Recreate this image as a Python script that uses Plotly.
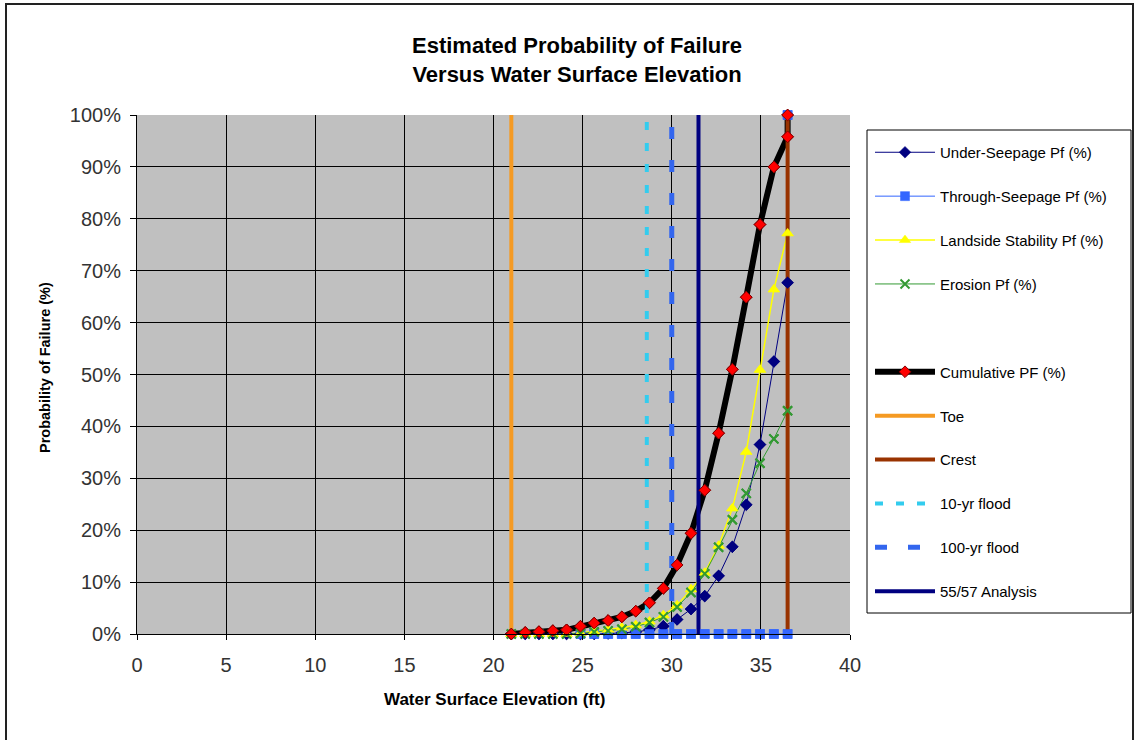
import plotly.graph_objects as go

# ---------------- data ----------------
elevation = [21.0, 21.78, 22.55, 23.33, 24.1, 24.88, 25.65, 26.43, 27.2, 27.98,
             28.75, 29.53, 30.3, 31.08, 31.85, 32.63, 33.4, 34.18, 34.95, 35.73, 36.5]
under_seepage = [0, 0, 0, 0, 0, 0, 0, 0.1, 0.2, 0.4,
                 0.8, 1.5, 2.8, 4.8, 7.3, 11.2, 16.8, 24.9, 36.5, 52.5, 67.7]
through_elev = [24.88, 25.65, 26.43, 27.2, 27.98, 28.75, 29.53, 30.3, 31.08, 31.85,
                32.63, 33.4, 34.18, 34.95, 35.73, 36.5, 36.5]
through_seepage = [0, 0, 0, 0, 0, 0, 0, 0, 0, 0, 0, 0, 0, 0, 0, 0, 100]
landside = [0, 0, 0, 0, 0, 0.2, 0.5, 0.8, 1.2, 1.7,
            2.4, 3.6, 5.5, 8.6, 11.8, 17.0, 24.2, 35.1, 50.9, 66.4, 77.2]
erosion = [0, 0, 0, 0, 0, 0.1, 0.4, 0.6, 0.9, 1.4,
           2.2, 3.3, 5.2, 8.0, 11.6, 16.7, 22.0, 27.1, 32.9, 37.6, 43.0]
cumulative_elev = [21.0, 21.78, 22.55, 23.33, 24.1, 24.88, 25.65, 26.43, 27.2, 27.98,
                   28.75, 29.53, 30.3, 31.08, 31.85, 32.63, 33.4, 34.18, 34.95, 35.73, 36.5, 36.5]
cumulative = [0, 0.3, 0.45, 0.65, 0.8, 1.5, 2.1, 2.6, 3.3, 4.4,
              6.0, 8.8, 13.3, 19.4, 27.7, 38.7, 51.0, 64.9, 78.9, 90.0, 95.8, 100]

toe_elev = 21.0
crest_elev = 36.5
flood10_elev = 28.6
flood100_elev = 30.0
analysis_elev = 31.5
line_span = [0, 100]

x_ticks = [0, 5, 10, 15, 20, 25, 30, 35, 40]
y_ticks = [0, 10, 20, 30, 40, 50, 60, 70, 80, 90, 100]

FONT = "Liberation Sans, Arial, sans-serif"

# plot-area pixel geometry helpers (for paper placement of text)
L, R, T, B, W, H = 137, 850, 115, 634, 1136, 740
def px(p):
    return (p - L) / (R - L)
def py(p):
    return (B - p) / (B - T)

fig = go.Figure()

series = [
    dict(name="Under-Seepage Pf (%)", x=elevation, y=under_seepage, color="#000080",
         width=1, symbol="diamond", msize=9, mcolor="#000080", mline="#000080"),
    dict(name="Through-Seepage Pf (%)", x=through_elev, y=through_seepage, color="#3366FF",
         width=1, symbol="square", msize=9, mcolor="#3366FF", mline="#3366FF"),
    dict(name="Landside Stability Pf (%)", x=elevation, y=landside, color="#FFFF00",
         width=1.5, symbol="triangle-up", msize=10, mcolor="#FFFF00", mline="#FFFF00"),
    dict(name="Erosion Pf (%)", x=elevation, y=erosion, color="#339933",
         width=1, symbol="x-thin", msize=9, mcolor="#339933", mline="#339933"),
]

def mk(s):
    return dict(symbol=s["symbol"], size=s["msize"], color=s["mcolor"],
                line=dict(color=s["mline"], width=2 if s["symbol"] == "x-thin" else 0.5))

for i, s in enumerate(series):
    fig.add_trace(go.Scatter(
        x=s["x"], y=s["y"], name=s["name"], mode="lines+markers",
        legendgroup="g%d" % i, cliponaxis=False,
        line=dict(color=s["color"], width=s["width"]),
        marker=mk(s),
    ))

# blank legend slot
fig.add_trace(go.Scatter(x=[None], y=[None], name=" ", mode="lines",
                         legendgroup="gblank", line=dict(color="rgba(255,255,255,0)", width=1),
                         hoverinfo="skip"))

cum_marker = dict(symbol="diamond", size=9, color="#FF0000", line=dict(color="#800000", width=1))
fig.add_trace(go.Scatter(
    x=cumulative_elev, y=cumulative, name="Cumulative PF (%)", mode="lines+markers",
    legendgroup="gcum", cliponaxis=False,
    line=dict(color="#000000", width=6),
    marker=cum_marker,
))

vlines = [
    ("Toe", toe_elev, "#F59A23", 4, "solid"),
    ("Crest", crest_elev, "#993300", 4, "solid"),
    ("10-yr flood", flood10_elev, "#33CCEE", 4, "8px,13px"),
    ("100-yr flood", flood100_elev, "#3366EE", 5, "12px,21px"),
    ("55/57 Analysis", analysis_elev, "#000080", 4, "solid"),
]
for j, (nm, xv, col, wd, dash) in enumerate(vlines):
    fig.add_trace(go.Scatter(
        x=[xv, xv], y=line_span, name=nm, mode="lines", legendgroup="v%d" % j,
        line=dict(color=col, width=wd, dash=dash),
    ))

# markers drawn above all lines (Excel style)
for i, s in enumerate(series):
    fig.add_trace(go.Scatter(
        x=s["x"], y=s["y"], mode="markers", showlegend=False, legendgroup="g%d" % i,
        cliponaxis=False, marker=mk(s),
    ))
fig.add_trace(go.Scatter(
    x=cumulative_elev, y=cumulative, mode="markers", showlegend=False, legendgroup="gcum",
    cliponaxis=False, marker=cum_marker,
))

fig.update_layout(
    width=W, height=H,
    margin=dict(l=L, r=W - R, t=T, b=H - B, autoexpand=False),
    paper_bgcolor="#FFFFFF",
    plot_bgcolor="#C0C0C0",
    font=dict(family=FONT, color="#000000"),
    showlegend=True,
    legend=dict(
        x=px(870), y=py(136), xanchor="left", yanchor="top",
        traceorder="grouped", tracegroupgap=21.4,
        bgcolor="rgba(255,255,255,0)", borderwidth=0,
        font=dict(family=FONT, size=15, color="#000000"),
        itemwidth=60, itemclick=False, itemdoubleclick=False,
    ),
    shapes=[
        # outer chart border
        dict(type="rect", xref="paper", yref="paper", x0=px(6), x1=px(1133),
             y0=py(760), y1=py(4), line=dict(color="#222222", width=2),
             fillcolor="rgba(0,0,0,0)", layer="below"),
        # legend box
        dict(type="rect", xref="paper", yref="paper", x0=px(867), x1=px(1131),
             y0=py(613), y1=py(130), line=dict(color="#000000", width=1),
             fillcolor="#FFFFFF", layer="below"),
    ],
    annotations=[
        dict(text="<b>Estimated Probability of Failure<br>Versus Water Surface Elevation</b>",
             xref="paper", yref="paper", x=px(577), y=py(60), xanchor="center", yanchor="middle",
             showarrow=False, font=dict(family=FONT, size=22, color="#000000")),
        dict(text="<b>Water Surface Elevation (ft)</b>", xref="paper", yref="paper",
             x=px(494), y=py(699), xanchor="center", yanchor="middle", showarrow=False,
             font=dict(family=FONT, size=17, color="#000000")),
        dict(text="<b>Probability of Failure (%)</b>", xref="paper", yref="paper",
             x=px(45), y=py(368), xanchor="center", yanchor="middle", showarrow=False,
             textangle=-90, font=dict(family=FONT, size=14.5, color="#000000")),
    ],
)

fig.update_xaxes(
    range=[0, 40], tickvals=x_ticks, ticktext=[str(v) for v in x_ticks],
    showgrid=True, gridcolor="#000000", gridwidth=1, zeroline=False,
    showline=True, linecolor="#000000", linewidth=1,
    ticks="outside", ticklen=5, tickcolor="#000000", ticklabelstandoff=8,
    tickfont=dict(family=FONT, size=20, color="#333333"),
)
fig.update_yaxes(
    range=[0, 100], tickvals=y_ticks, ticktext=["%d%%" % v for v in y_ticks],
    showgrid=True, gridcolor="#000000", gridwidth=1, zeroline=False,
    showline=True, linecolor="#000000", linewidth=1,
    ticks="outside", ticklen=6, tickcolor="#000000", ticklabelstandoff=5,
    tickfont=dict(family=FONT, size=20, color="#333333"),
)

fig.write_html("out.html")
